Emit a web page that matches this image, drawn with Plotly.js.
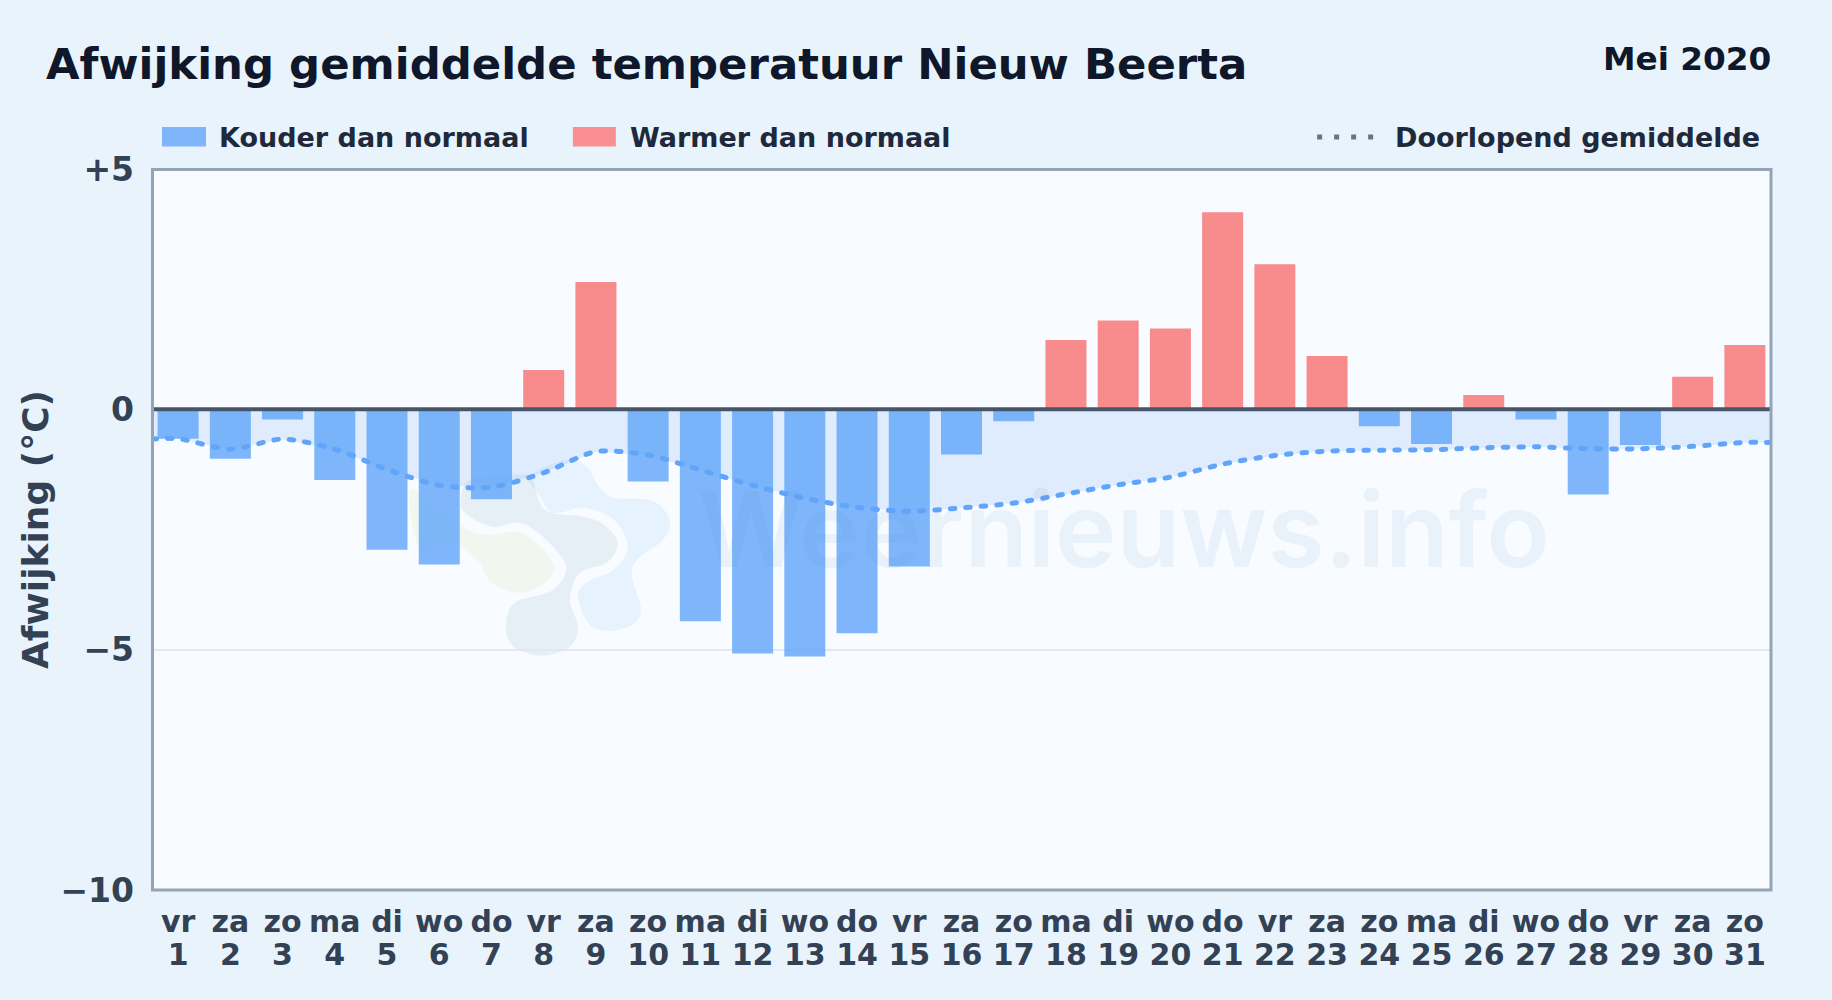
<!DOCTYPE html>
<html><head><meta charset="utf-8">
<script src="https://cdn.plot.ly/plotly-3.0.1.min.js"></script>
<style>
html,body{margin:0;padding:0;background:#e8f3fc;overflow:hidden}
#chart{width:1832px;height:1000px}
.scatterlayer .js-line{stroke-linecap:round}
</style></head><body><div id="chart"></div>
<script>
const days=[1,2,3,4,5,6,7,8,9,10,11,12,13,14,15,16,17,18,19,20,21,22,23,24,25,26,27,28,29,30,31];
const weekdays=["vr","za","zo","ma","di","wo","do","vr","za","zo","ma","di","wo","do","vr","za","zo","ma","di","wo","do","vr","za","zo","ma","di","wo","do","vr","za","zo"];
const anomaly=[-0.61,-1.03,-0.21,-1.47,-2.92,-3.23,-1.87,0.82,2.65,-1.5,-4.41,-5.08,-5.14,-4.66,-3.27,-0.94,-0.25,1.44,1.85,1.68,4.1,3.02,1.11,-0.35,-0.72,0.3,-0.21,-1.77,-0.74,0.68,1.34];
const meanX=[0.5,1,2,3,4,5,6,7,8,9,10,11,12,13,14,15,16,17,18,19,20,21,22,23,24,25,26,27,28,29,30,31,31.5];
const runningMean=[-0.62,-0.61,-0.83,-0.62,-0.83,-1.25,-1.58,-1.62,-1.32,-0.88,-0.95,-1.26,-1.58,-1.85,-2.04,-2.12,-2.05,-1.95,-1.76,-1.57,-1.41,-1.14,-0.96,-0.87,-0.85,-0.84,-0.8,-0.78,-0.82,-0.82,-0.77,-0.69,-0.69];
const yTickVals=[5,0,-5,-10];
const yTickText=["+5","0","\u22125","\u221210"];
const TXT="#334155",DARK="#0f172a",LEG="#1e293b",FONT="'DejaVu Sans',sans-serif";
const P={l:152,r:1771.5,t:169,b:890.5};
const px=x=>(x-P.l)/(P.r-P.l), py=y=>(P.b-y)/(P.b-P.t);
const logoGrey=[[461,497],[470,480],[500,477],[530,477],[545,510],[584,517],[604,525],[618,543],[607,563],[580,573],[570,600],[578,627],[570,647],[542,656],[514,647],[506,627],[515,603],[553,590],[565,563],[526,525],[492,527],[465,513]];
const logoBlue=[[565,460],[587,467],[599,487],[614,498],[649,500],[665,511],[670,527],[660,543],[637,560],[632,577],[641,608],[634,624],[612,631],[590,625],[578,597],[588,582],[614,570],[628,547],[614,520],[584,508],[553,513],[538,493],[530,477]];
const logoYellow=[[410,490],[440,510],[470,531],[492,535],[522,533],[553,563],[545,583],[519,593],[492,583],[477,560],[455,545],[420,548]];
function blob(pts){let n=pts.length,d="";const q=pts.map(p=>[px(p[0]),py(p[1])]);
 d="M"+q[0][0]+","+q[0][1];
 for(let i=0;i<n;i++){const a=q[(i-1+n)%n],b=q[i],c=q[(i+1)%n],e=q[(i+2)%n];
  d+=" C"+(b[0]+(c[0]-a[0])/6)+","+(b[1]+(c[1]-a[1])/6)+" "+(c[0]-(e[0]-b[0])/6)+","+(c[1]-(e[1]-b[1])/6)+" "+c[0]+","+c[1];}
 return d+" Z";}
const blobShape=(pts,c)=>({type:"path",xref:"paper",yref:"paper",path:blob(pts),fillcolor:c,line:{width:0},layer:"below"});
const swatch=(x0,x1,c)=>({type:"rect",xref:"paper",yref:"paper",x0:px(x0),x1:px(x1),y0:py(146.5),y1:py(127),fillcolor:c,line:{width:0}});
const note=(t,x,y,size,color,anchor)=>({text:t,xref:"paper",yref:"paper",x:px(x),y:py(y),xanchor:anchor||"left",yanchor:"middle",showarrow:false,font:{family:FONT,size:size,color:color,weight:700}});
const BLUE="rgba(96,165,250,0.8)",RED="rgba(248,113,113,0.8)";
const lineStyle={color:"#60a5fa",width:5,dash:"4.5px,11px",shape:"spline",smoothing:0.8};
const traces=[
 {type:"scatter",mode:"none",x:meanX,y:runningMean,fill:"tozeroy",fillcolor:"rgba(96,165,250,0.17)",hoverinfo:"skip"},
 {type:"bar",x:days,y:anomaly,marker:{color:anomaly.map(v=>v<0?BLUE:RED),line:{width:0}}},
 {type:"scatter",mode:"lines",xaxis:"x2",x:meanX,y:runningMean,line:lineStyle,hoverinfo:"skip"}
];
const layout={
 width:1832,height:1000,showlegend:false,autosize:false,
 paper_bgcolor:"#e8f3fc",plot_bgcolor:"#f8fbff",
 margin:{l:P.l,r:1832-P.r,t:P.t,b:1000-P.b,pad:0},
 bargap:0.215,
 font:{family:FONT,color:TXT},
 title:{text:"Afwijking gemiddelde temperatuur Nieuw Beerta",x:46/1832,xanchor:"left",y:1-64/1000,yanchor:"middle",font:{family:FONT,size:43.4,color:DARK,weight:700}},
 xaxis:{range:[0.5,31.5],tickmode:"array",tickvals:days,ticktext:weekdays,ticks:"",showgrid:false,zeroline:false,showline:false,tickangle:0,ticklabelstandoff:11,tickfont:{family:FONT,size:30,color:TXT,weight:700}},
 xaxis2:{overlaying:"x",anchor:"y",side:"bottom",range:[0.5,31.5],tickmode:"array",tickvals:days,ticktext:days.map(String),ticks:"",showgrid:false,zeroline:false,showline:false,tickangle:0,ticklabelstandoff:44,tickfont:{family:FONT,size:30,color:TXT,weight:700}},
 yaxis:{range:[-10,5],tickmode:"array",tickvals:yTickVals,ticktext:yTickText,ticks:"",showgrid:true,gridcolor:"#e2e8f0",gridwidth:2,zeroline:false,showline:false,ticklabelstandoff:17,tickfont:{family:FONT,size:33,color:TXT,weight:700},
  title:{text:"Afwijking (\u00b0C)",standoff:0,font:{family:FONT,size:36,color:TXT,weight:700}}},
 shapes:[
  {type:"line",xref:"paper",yref:"y",x0:0,x1:1,y0:0,y1:0,line:{color:"#475569",width:4},layer:"above"},
  {type:"rect",xref:"paper",yref:"paper",x0:px(152.5),x1:px(1771.5),y0:py(890.5),y1:py(169.5),fillcolor:"rgba(0,0,0,0)",line:{color:"#94a3b8",width:3},layer:"above"},
  swatch(162,206,"#7fb5fb"),swatch(573,616,"#f98f91"),
  {type:"line",xref:"paper",yref:"paper",x0:px(1317.5),x1:px(1374),y0:py(137),y1:py(137),line:{color:"#64748b",width:5,dash:"5px,12px"}},
  blobShape(logoGrey,"rgba(80,135,170,0.10)"),blobShape(logoBlue,"rgba(90,175,245,0.11)"),blobShape(logoYellow,"rgba(195,215,110,0.11)")
 ],
 annotations:[
  note("Mei 2020",1774,59,32.7,DARK,"right"),
  note("Kouder dan normaal",217,137,27,LEG),
  note("Warmer dan normaal",628,137,27,LEG),
  note("Doorlopend gemiddelde",1393,137,27,LEG),
  {text:"Weernieuws.info",xref:"paper",yref:"paper",x:px(1124),y:py(529),xanchor:"center",yanchor:"middle",showarrow:false,font:{family:"Inter,sans-serif",size:104,color:"rgba(90,145,205,0.09)",weight:600}}
 ]
};
Plotly.newPlot("chart",traces,layout,{displayModeBar:false,staticPlot:true});
</script></body></html>
